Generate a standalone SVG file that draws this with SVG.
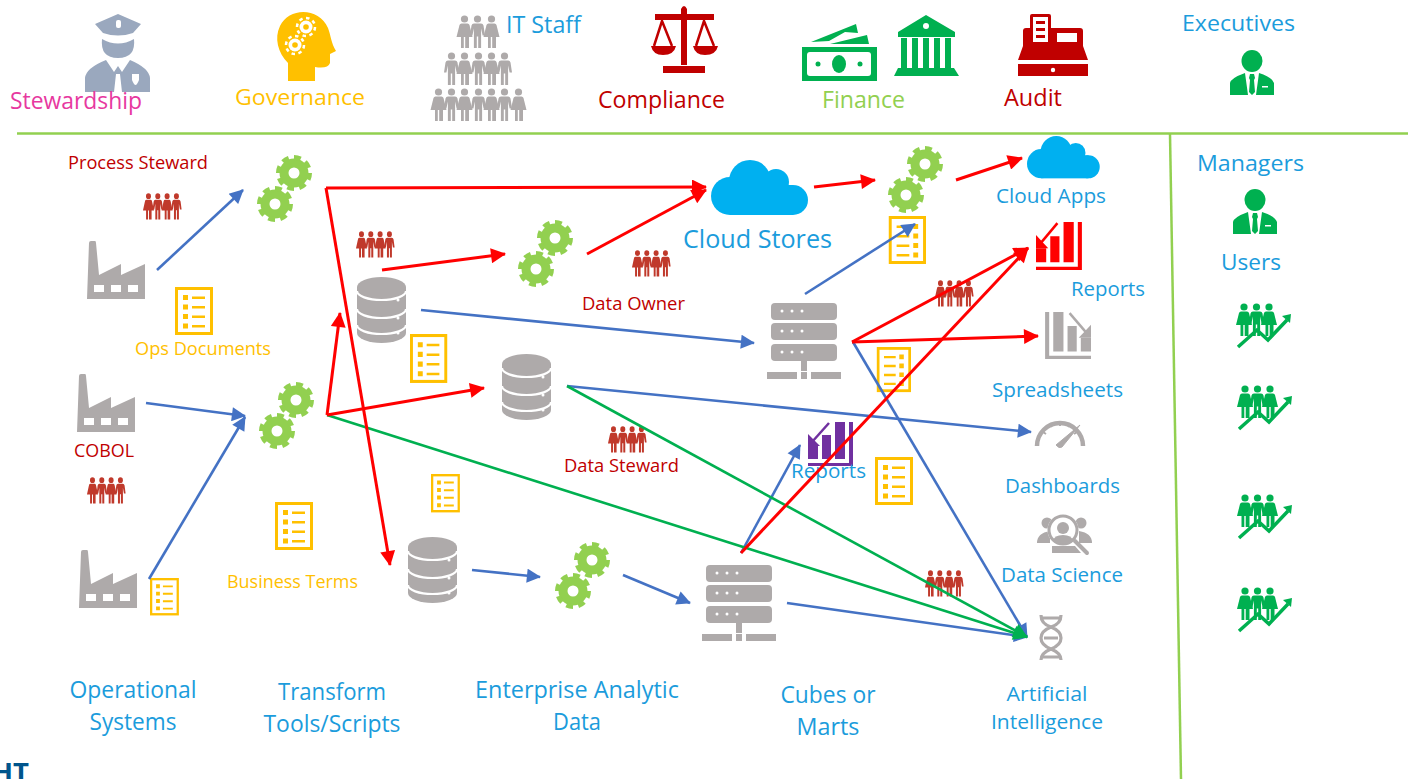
<svg xmlns="http://www.w3.org/2000/svg" width="1408" height="779" viewBox="0 0 1408 779">
<style>
text{font-family:"Open Sans","Noto Sans","Liberation Sans",sans-serif}
.b{fill:#1B9CDC}.r{fill:#C00000}.y{fill:#FFC000}
.lb{stroke:#4472C4;stroke-width:2.6;marker-end:url(#ab);fill:none}
.lr{stroke:#FF0000;stroke-width:3;marker-end:url(#ar);fill:none}
.lg{stroke:#00B050;stroke-width:2.6;marker-end:url(#ag);fill:none}
.gr{fill:#AEAAAA}
</style>
<defs>
<marker id="ab" viewBox="0 0 6 6" refX="5.6" refY="3" markerWidth="6" markerHeight="5.4" orient="auto"><path d="M0,0L6,3L0,6Z" fill="#4472C4"/></marker>
<marker id="ar" viewBox="0 0 6 6" refX="5.6" refY="3" markerWidth="6" markerHeight="5" orient="auto"><path d="M0,0L6,3L0,6Z" fill="#FF0000"/></marker>
<marker id="ag" viewBox="0 0 6 6" refX="5.6" refY="3" markerWidth="6.6" markerHeight="5.6" orient="auto"><path d="M0,0L6,3L0,6Z" fill="#00B050"/></marker>
<g id="man"><circle cx="6.500" cy="4" r="3.600"/><path d="M3,8.500h7q2,0 2.500,2l1.500,10h-2.400l-1.500,-7V33H7.200V21.500H5.800V33H2.900V13.500l-1.500,7H-1l1.500,-10q.5,-2 2.500,-2Z"/></g>
<g id="wom"><circle cx="6.500" cy="4" r="3.600"/><path d="M3.500,8.500h6q1.500,0 2,1.500l3,12h-3.500V33H7.200V22H5.800V33H3V22H-1.500l3,-12q.5,-1.500 2,-1.500Z"/></g>
<g id="p4"><use href="#wom"/><use href="#man" x="13.500"/><use href="#wom" x="27"/><use href="#man" x="40.500"/></g>
<g id="gear"><circle r="10" fill="none" stroke="#92D050" stroke-width="9"/><circle r="15.500" fill="none" stroke="#92D050" stroke-width="5" pathLength="80" stroke-dasharray="5.600 4.400"/></g>
<g id="gears"><use href="#gear" x="37" y="18"/><use href="#gear" x="18" y="49"/></g>
<g id="doc"><rect x="1.500" y="1.500" width="35" height="45" fill="#fff" stroke="#FFC000" stroke-width="3"/><path d="M8,8h5v5H8zM8,17.500h5v5H8zM8,27h5v5H8zM8,36.500h5v5H8zM17,9.500h13v2.500H17zM17,19h13v2.500H17zM17,28.500h13v2.500H17zM17,38h13v2.500H17z" fill="#FFC000"/></g>
<g id="db"><path class="gr" d="M0,10A24.500,10 0 0 1 49,10V56A24.500,10 0 0 1 0,56Z"/><path d="M0,14A24.500,9 0 0 0 49,14M0,32A24.500,9 0 0 0 49,32M0,48A24.500,9 0 0 0 49,48" fill="none" stroke="#fff" stroke-width="2.200"/><circle cx="41" cy="23" r="1.500" fill="#fff"/><circle cx="41" cy="41" r="1.500" fill="#fff"/><circle cx="41" cy="56" r="1.500" fill="#fff"/></g>
<g id="srv"><g class="gr"><rect x="4" width="66" height="17" rx="4"/><rect x="4" y="20" width="66" height="17" rx="4"/><rect x="4" y="41" width="66" height="17" rx="4"/><path d="M34,58h6v10h-6zM0,69h30v7H0zM34,69h6v7h-6zM44,69h30v7H44z"/></g><g fill="#fff"><circle cx="15" cy="8" r="1.500"/><circle cx="25" cy="8" r="1.500"/><circle cx="35" cy="8" r="1.500"/><circle cx="15" cy="28" r="1.500"/><circle cx="25" cy="28" r="1.500"/><circle cx="35" cy="28" r="1.500"/><circle cx="15" cy="49" r="1.500"/><circle cx="25" cy="49" r="1.500"/><circle cx="35" cy="49" r="1.500"/></g></g>
<g id="fac"><path class="gr" d="M2,2Q2,0 4,0H8Q9,0 9,2L12,34L34,23V34L58,23V58H0Z"/><path d="M7,44h10v7H7zM24,44h10v7H24zM41,44h10v7H41z" fill="#fff"/></g>
<g id="chart"><path fill="currentColor" d="M0,24h10v13H0zM14,13h9v24h-9zM27,0h10v37H27zM41,0h4v44H0v-3h41z"/><path d="M21,1L4,20" stroke="currentColor" stroke-width="2.500" fill="none"/><path d="M0,12V24H12Z" fill="currentColor"/></g>
<g id="boss"><ellipse cx="22" cy="11" rx="10.500" ry="11" fill="#00B050"/><path fill="#00B050" d="M0,45V33Q1,28 15,23L18,45ZM26,45L29,23Q42,27 44,33V45ZM20,24h4l1,4l-1,2l1,12l-3,3l-3,-3l1,-12l-1,-2Z"/><rect x="32" y="36" width="6" height="1.500" fill="#fff"/></g>
<g id="grow" fill="#00B050"><use href="#wom" x="1.500" y="-2"/><use href="#man" x="14" y="-2"/><use href="#wom" x="26.500" y="-2"/><path d="M2,42L21,25L32,35L51,15" fill="none" stroke="#00B050" stroke-width="3.500"/><path d="M46,11L55,9L54,18Z"/></g>
<g id="cloud" fill="#00B0F0"><circle cx="19" cy="36" r="19"/><circle cx="39" cy="21" r="21"/><circle cx="65" cy="22" r="13"/><circle cx="82" cy="40" r="15"/><rect x="19" y="25" width="63" height="30"/></g>
</defs>

<g id="frame" fill="none" stroke="#92D050" stroke-width="2.500"><path d="M17,133.500H1408"/><path d="M1170,134L1181,779"/></g>

<g id="stewardship"><path fill="#9AA8BE" d="M118,14L141,24L133,33Q118,38 103,33L95,24ZM102,39Q118,48 134,39Q136,58 118,58Q100,58 102,39ZM85,92V78Q86,68 106,60L114,72L118,66L122,72L130,60Q149,68 150,78V92H122L120,74H116L114,92Z"/><rect x="116" y="20" width="5" height="8" rx="2" fill="#fff"/><path d="M132,74h7v6q-2,5 -3.500,5q-1.500,0 -3.500,-5Z" fill="#fff"/><text x="10" y="109" font-size="23" fill="#E7389F" textLength="132" lengthAdjust="spacingAndGlyphs">Stewardship</text></g>

<g id="governance"><path fill="#FFC000" d="M288,81V63C278,53 274,38 280,26C289,7 319,7 328,28C331,36 331,43 336,51L330,54V63Q328,69 315,67V81Z"/><g fill="#fff"><circle cx="306" cy="27" r="6.500"/><circle cx="295" cy="45" r="6.500"/></g><circle cx="306" cy="27" r="9" fill="none" stroke="#fff" stroke-width="2.500" pathLength="40" stroke-dasharray="2.500 2.500"/><circle cx="295" cy="45" r="9" fill="none" stroke="#fff" stroke-width="2.500" pathLength="40" stroke-dasharray="2.500 2.500"/><circle cx="306" cy="27" r="2.800" fill="#FFC000"/><circle cx="295" cy="45" r="2.800" fill="#FFC000"/><text x="235" y="105" font-size="22" class="y" textLength="130" lengthAdjust="spacingAndGlyphs">Governance</text></g>

<g id="it-staff" fill="#AEAAAA"><use href="#wom" x="458" y="15"/><use href="#man" x="471" y="15"/><use href="#wom" x="485" y="15"/><use href="#man" x="445" y="52"/><use href="#wom" x="458" y="52"/><use href="#man" x="472" y="52"/><use href="#wom" x="485" y="52"/><use href="#man" x="498" y="52"/><use href="#wom" x="432" y="88"/><use href="#man" x="445" y="88"/><use href="#wom" x="458" y="88"/><use href="#man" x="472" y="88"/><use href="#wom" x="485" y="88"/><use href="#man" x="498" y="88"/><use href="#wom" x="512" y="88"/><text x="506" y="33" font-size="23" class="b" textLength="75" lengthAdjust="spacingAndGlyphs">IT Staff</text></g>

<g id="compliance"><g fill="#C00000"><path d="M681,14V9Q684,3 687,9V14H714V20H687V65H681V20H655V14Z"/><path d="M663,66H705V73H663Z"/><path d="M651,46H676Q674,55 663,55Q653,55 651,46ZM693,46H718Q716,55 705,55Q695,55 693,46Z"/></g><path d="M654,46L662,21L672,46M696,46L704,21L714,46" fill="none" stroke="#C00000" stroke-width="2.500"/><text x="598" y="108" font-size="23" class="r" textLength="127" lengthAdjust="spacingAndGlyphs">Compliance</text></g>

<g id="finance"><path fill="#00B050" d="M811,42L856,24L858,33L845,32L829,41ZM830,44L867,35L869,44ZM802,47H877V81H802Z"/><rect x="807" y="52" width="64" height="24" rx="3" fill="#fff"/><ellipse cx="839" cy="64" rx="7" ry="9" fill="#00B050"/><circle cx="818" cy="64" r="2.500" fill="#00B050"/><circle cx="860" cy="64" r="2.500" fill="#00B050"/><path fill="#00B050" d="M926,15L955,32V37H898V32ZM901,38h6v30h-6zM912,38h6v30h-6zM923,38h6v30h-6zM934,38h6v30h-6zM945,38h6v30h-6zM898,68h56l5,8h-65Z"/><circle cx="926" cy="26" r="3" fill="#fff"/><text x="822" y="108" font-size="23" fill="#92D050" textLength="83" lengthAdjust="spacingAndGlyphs">Finance</text></g>

<g id="audit"><path fill="#C00000" d="M1030,16q0,-2 2,-2h17q2,0 2,2V28H1080q3,0 3,3V46L1088,60H1018L1023,46V31q0,-3 3,-3h4ZM1018,64H1088V76H1018Z"/><rect x="1033" y="17" width="15" height="25" fill="#fff"/><path d="M1036,21h9v3h-9zM1036,28h9v3h-9zM1036,35h9v3h-9z" fill="#C00000"/><rect x="1057" y="33" width="20" height="9" fill="#fff"/><circle cx="1053" cy="70" r="2.200" fill="#fff"/><text x="1004" y="106" font-size="23" class="r" textLength="58" lengthAdjust="spacingAndGlyphs">Audit</text></g>

<g id="executives"><use href="#boss" x="1230" y="50"/><text x="1182" y="31" font-size="22" class="b" textLength="113" lengthAdjust="spacingAndGlyphs">Executives</text></g>
<g id="managers"><use href="#boss" x="1233" y="189"/><text x="1197" y="171" font-size="22" class="b" textLength="107" lengthAdjust="spacingAndGlyphs">Managers</text></g>
<g id="users"><text x="1221" y="270" font-size="22" class="b" textLength="60" lengthAdjust="spacingAndGlyphs">Users</text><use href="#grow" x="1236" y="305"/><use href="#grow" x="1237" y="387"/><use href="#grow" x="1237" y="496"/><use href="#grow" x="1237" y="589"/></g>

<g id="factories"><use href="#fac" x="87" y="241"/><use href="#fac" x="77" y="374"/><use href="#fac" x="79" y="550"/></g>
<g id="docs"><use href="#doc" x="175" y="287"/><use href="#doc" transform="translate(410,334) scale(.98,1.02)"/><use href="#doc" transform="translate(926,216) scale(-.98,1)"/><use href="#doc" transform="translate(911,347) scale(-.9,.94)"/><use href="#doc" x="875" y="457"/><use href="#doc" transform="translate(431,474) scale(.76,.8)"/><use href="#doc" transform="translate(150,578) scale(.76,.78)"/><use href="#doc" x="275" y="502"/></g>
<g id="teams" fill="#C0392B"><use href="#p4" transform="translate(144,193) scale(.69,.8)"/><use href="#p4" transform="translate(357,231) scale(.69,.8)"/><use href="#p4" transform="translate(633,250) scale(.69,.8)"/><use href="#p4" transform="translate(936,280) scale(.69,.8)"/><use href="#p4" transform="translate(609,426) scale(.69,.8)"/><use href="#p4" transform="translate(88,477) scale(.69,.8)"/><use href="#p4" transform="translate(926,570) scale(.69,.8)"/></g>
<g id="gear-nodes"><use href="#gears" x="257" y="155"/><use href="#gears" x="518" y="220"/><use href="#gears" x="259" y="382"/><use href="#gears" x="555" y="542"/><use href="#gears" x="888" y="146"/></g>
<g id="databases"><use href="#db" x="357" y="277"/><use href="#db" x="502" y="354"/><use href="#db" x="408" y="537"/></g>
<g id="servers"><use href="#srv" x="767" y="303"/><use href="#srv" x="702" y="565"/></g>

<g id="cloud-stores"><use href="#cloud" x="711" y="160"/><text x="683" y="248" font-size="25" class="b" textLength="149" lengthAdjust="spacingAndGlyphs">Cloud Stores</text></g>
<g id="cloud-apps"><use href="#cloud" transform="translate(1027,136) scale(.75,.77)"/><text x="996" y="203" font-size="20" class="b" textLength="110" lengthAdjust="spacingAndGlyphs">Cloud Apps</text></g>
<g id="reports-red" color="#FF0000"><use href="#chart" transform="translate(1036,222) scale(1.02,1.09)"/><text x="1071" y="296" font-size="20" class="b" textLength="74" lengthAdjust="spacingAndGlyphs">Reports</text></g>
<g id="spreadsheets" color="#AEAAAA"><use href="#chart" transform="translate(1091,312) scale(-1.02,1.07)"/><text x="992" y="397" font-size="20" class="b" textLength="131" lengthAdjust="spacingAndGlyphs">Spreadsheets</text></g>
<g id="dashboards"><path d="M1037,446A23,23 0 0 1 1083,446" fill="none" stroke="#AEAAAA" stroke-width="4.500"/><path d="M1043,432l3,2M1050,424l2,3M1060,421v5M1070,424l-2,3M1077,432l-3,2" stroke="#AEAAAA" stroke-width="2"/><path d="M1056,445L1080,425L1062,447Q1059,449 1056,445Z" fill="#AEAAAA" stroke="#AEAAAA"/><text x="1005" y="493" font-size="20" class="b" textLength="115" lengthAdjust="spacingAndGlyphs">Dashboards</text></g>
<g id="reports-purple" color="#7030A0"><use href="#chart" x="808" y="422"/><text x="791" y="478" font-size="20" class="b" textLength="75" lengthAdjust="spacingAndGlyphs">Reports</text></g>
<g id="data-science"><g class="gr"><circle cx="1047" cy="523" r="5.500"/><circle cx="1081" cy="523" r="5.500"/><path d="M1037,543Q1037,533 1050,531V543ZM1092,543Q1092,533 1079,531V543ZM1052,546H1075L1081,553H1052Z"/></g><circle cx="1063" cy="530" r="14" fill="#fff" stroke="#fff" stroke-width="3"/><circle cx="1063" cy="530" r="14" fill="#fff" stroke="#AEAAAA" stroke-width="3"/><circle cx="1063" cy="528" r="6" class="gr"/><path d="M1053,541Q1054,535 1063,535Q1072,535 1073,541Q1063,546 1053,541Z" class="gr"/><path d="M1075,541L1087,553" stroke="#AEAAAA" stroke-width="4" stroke-linecap="round"/><text x="1001" y="582" font-size="20" class="b" textLength="122" lengthAdjust="spacingAndGlyphs">Data Science</text></g>
<g id="ai"><path d="M1041,615Q1041,624 1051,627Q1061,631 1061,638Q1061,645 1051,649Q1041,653 1041,660M1061,615Q1061,624 1051,627Q1041,631 1041,638Q1041,645 1051,649Q1061,653 1061,660M1041,618H1061M1044,638H1058M1041,657H1061" fill="none" stroke="#AEAAAA" stroke-width="3.200"/><text x="1047" y="701" font-size="20" class="b" text-anchor="middle" textLength="81" lengthAdjust="spacingAndGlyphs">Artificial</text><text x="1047" y="729" font-size="20" class="b" text-anchor="middle" textLength="112" lengthAdjust="spacingAndGlyphs">Intelligence</text></g>

<g id="connectors">
<line class="lb" x1="157" y1="270" x2="243" y2="190"/>
<line class="lb" x1="146" y1="403" x2="245" y2="416"/>
<line class="lb" x1="149" y1="579" x2="245" y2="417"/>
<line class="lb" x1="421" y1="310" x2="754" y2="343"/>
<line class="lb" x1="472" y1="570" x2="540" y2="577"/>
<line class="lb" x1="623" y1="575" x2="690" y2="603"/>
<line class="lb" x1="805" y1="294" x2="915" y2="224"/>
<line class="lb" x1="567" y1="386" x2="1031" y2="432"/>
<line class="lb" x1="853" y1="342" x2="1027" y2="637"/>
<line class="lb" x1="787" y1="603" x2="1027" y2="637"/>
<line class="lb" x1="741" y1="553" x2="800" y2="445"/>
<line class="lg" x1="327" y1="415" x2="1027" y2="637"/>
<line class="lg" x1="567" y1="386" x2="1027" y2="637"/>
<line class="lr" x1="326" y1="188" x2="706" y2="187"/>
<line class="lr" x1="326" y1="188" x2="390" y2="565"/>
<line class="lr" x1="327" y1="415" x2="484" y2="388"/>
<line class="lr" x1="327" y1="415" x2="340" y2="313"/>
<line class="lr" x1="382" y1="270" x2="505" y2="254"/>
<line class="lr" x1="587" y1="254" x2="706" y2="190"/>
<line class="lr" x1="814" y1="187" x2="875" y2="180"/>
<line class="lr" x1="956" y1="180" x2="1022" y2="158"/>
<line class="lr" x1="852" y1="342" x2="1028" y2="248"/>
<line class="lr" x1="852" y1="342" x2="1038" y2="336"/>
<line class="lr" x1="741" y1="553" x2="1028" y2="248"/>
</g>

<g id="labels">
<text x="68" y="169" font-size="18" class="r" textLength="140" lengthAdjust="spacingAndGlyphs">Process Steward</text>
<text x="135" y="355" font-size="18" class="y" textLength="136" lengthAdjust="spacingAndGlyphs">Ops Documents</text>
<text x="74" y="457" font-size="18" class="r" textLength="60" lengthAdjust="spacingAndGlyphs">COBOL</text>
<text x="227" y="588" font-size="18" class="y" textLength="131" lengthAdjust="spacingAndGlyphs">Business Terms</text>
<text x="582" y="310" font-size="18" class="r" textLength="103" lengthAdjust="spacingAndGlyphs">Data Owner</text>
<text x="564" y="472" font-size="18" class="r" textLength="115" lengthAdjust="spacingAndGlyphs">Data Steward</text>
<text x="133" y="698" font-size="23" class="b" text-anchor="middle" textLength="127" lengthAdjust="spacingAndGlyphs">Operational</text>
<text x="133" y="730" font-size="23" class="b" text-anchor="middle" textLength="87" lengthAdjust="spacingAndGlyphs">Systems</text>
<text x="332" y="700" font-size="23" class="b" text-anchor="middle" textLength="108" lengthAdjust="spacingAndGlyphs">Transform</text>
<text x="332" y="732" font-size="23" class="b" text-anchor="middle" textLength="137" lengthAdjust="spacingAndGlyphs">Tools/Scripts</text>
<text x="577" y="698" font-size="23" class="b" text-anchor="middle" textLength="204" lengthAdjust="spacingAndGlyphs">Enterprise Analytic</text>
<text x="577" y="730" font-size="23" class="b" text-anchor="middle" textLength="48" lengthAdjust="spacingAndGlyphs">Data</text>
<text x="828" y="703" font-size="23" class="b" text-anchor="middle" textLength="95" lengthAdjust="spacingAndGlyphs">Cubes or</text>
<text x="828" y="735" font-size="23" class="b" text-anchor="middle" textLength="63" lengthAdjust="spacingAndGlyphs">Marts</text>
<text x="-8" y="781" font-size="25" font-weight="700" fill="#00558C" textLength="37" lengthAdjust="spacingAndGlyphs">HT</text>
</g>
</svg>
